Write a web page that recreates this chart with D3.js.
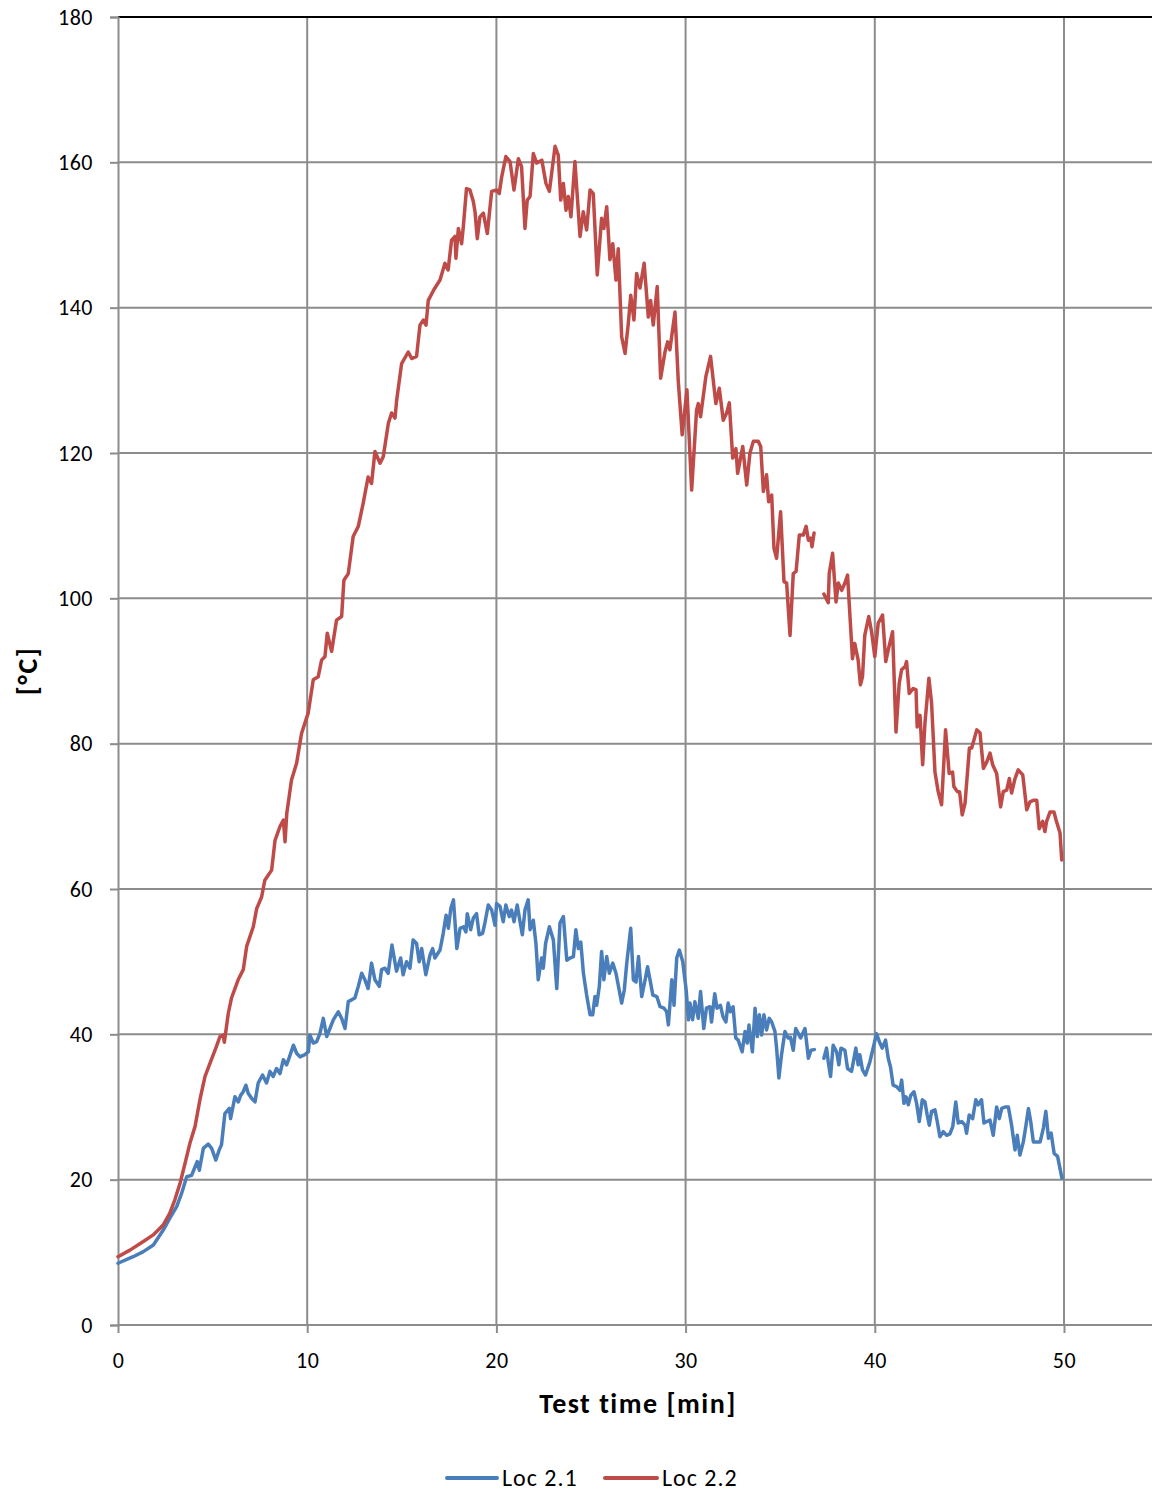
<!DOCTYPE html>
<html>
<head>
<meta charset="utf-8">
<script src="https://cdn.jsdelivr.net/npm/d3@7/dist/d3.min.js"></script>
<style>
  html, body { margin: 0; padding: 0; background: #fff; }
  svg { display: block; }
  text { font-family: Carlito, Calibri, Lato, "Open Sans", sans-serif; fill: #000; }
</style>
</head>
<body>
<svg id="chart" width="1152" height="1491"></svg>
<script>
// Temperature readings [°C] against test time [min]; null marks a logging gap.
const loc21Time = [0,0.8,1.34,1.87,2.4,2.74,3.1,3.36,3.63,3.89,4.0,4.19,4.3,4.51,4.77,4.95,5.17,5.35,5.47,5.65,5.88,5.95,6.18,6.36,6.48,6.62,6.76,6.88,7.06,7.24,7.41,7.64,7.85,8.03,8.2,8.38,8.56,8.74,8.91,9.05,9.27,9.44,9.62,9.88,10.06,10.14,10.32,10.5,10.67,10.85,11.03,11.2,11.38,11.64,11.82,12.0,12.17,12.52,12.7,12.88,13.05,13.22,13.4,13.58,13.81,13.93,14.11,14.28,14.48,14.72,14.94,15.07,15.25,15.43,15.6,15.78,15.92,16.05,16.27,16.49,16.63,16.75,17.02,17.19,17.34,17.46,17.59,17.73,17.91,18.08,18.26,18.39,18.46,18.64,18.78,18.95,19.09,19.27,19.39,19.57,19.75,19.93,20.01,20.19,20.36,20.5,20.68,20.8,20.93,21.1,21.25,21.37,21.51,21.68,21.78,21.95,22.09,22.21,22.39,22.48,22.6,22.8,23.01,23.19,23.36,23.54,23.72,23.89,24.07,24.2,24.33,24.46,24.6,24.77,24.95,25.09,25.21,25.3,25.44,25.56,25.68,25.83,25.97,26.15,26.32,26.49,26.62,26.76,26.89,27.1,27.24,27.38,27.51,27.68,27.86,27.99,28.12,28.27,28.48,28.65,28.86,29.0,29.09,29.27,29.39,29.53,29.67,29.85,30.03,30.15,30.23,30.37,30.49,30.67,30.79,30.96,31.1,31.28,31.37,31.54,31.66,31.84,31.98,32.13,32.25,32.37,32.51,32.65,32.78,32.99,33.14,33.26,33.35,33.53,33.67,33.79,33.9,34.02,34.14,34.28,34.42,34.55,34.72,34.81,34.93,35.07,35.25,35.42,35.54,35.69,35.82,35.96,36.08,36.31,36.49,36.63,36.8,37.05,37.31,37.45,37.54,37.66,37.8,37.98,38.1,38.21,38.42,38.56,38.77,38.9,39.0,39.12,39.21,39.35,39.51,39.74,39.95,40.09,40.27,40.39,40.57,40.71,40.83,40.97,41.15,41.33,41.42,41.54,41.65,41.77,41.9,42.07,42.21,42.35,42.51,42.65,42.77,42.88,43.0,43.18,43.3,43.44,43.62,43.8,43.97,44.12,44.28,44.41,44.59,44.77,44.85,44.99,45.17,45.34,45.46,45.64,45.77,45.91,46.09,46.26,46.44,46.58,46.71,46.88,47.06,47.23,47.41,47.53,47.67,47.85,47.99,48.12,48.24,48.38,48.56,48.74,48.91,49.04,49.18,49.32,49.48,49.66,49.89];
const loc21Temp = [8.5,9.4,10.1,11.0,13.1,14.7,16.3,18.1,20.4,20.6,21.3,22.5,21.3,24.3,24.9,24.3,22.7,24.1,24.8,29.1,29.8,28.4,31.4,30.7,31.6,32.1,33.0,31.9,31.2,30.7,33.3,34.4,33.3,34.9,34.2,35.3,34.6,36.5,35.8,36.8,38.5,37.4,36.9,37.2,37.6,39.9,38.8,39.0,40.1,42.2,39.7,40.8,42.0,43.1,42.2,40.8,44.5,45.0,46.6,48.4,47.5,46.3,49.8,47.5,46.6,48.9,49.1,48.4,52.3,48.7,50.5,48.2,50.0,49.1,53.0,52.5,50.0,51.8,48.2,50.9,51.8,50.5,51.6,53.9,56.4,54.6,57.3,58.5,51.8,54.6,54.8,54.1,56.6,54.4,56.0,56.6,53.7,53.9,55.3,57.8,57.1,55.0,58.0,57.6,55.5,57.8,56.2,57.1,55.5,57.8,55.5,53.7,57.1,58.5,54.4,55.7,52.5,47.5,50.5,49.1,52.5,54.8,53.0,46.3,55.3,56.2,50.2,50.5,50.7,54.4,51.8,52.7,48.4,45.4,42.7,42.7,45.2,44.0,46.6,51.4,47.5,50.7,48.4,49.8,48.4,46.1,44.3,46.1,49.8,54.6,47.5,47.2,50.7,45.2,47.5,49.3,47.5,45.4,45.2,43.8,43.6,43.1,41.3,47.5,44.0,50.5,51.6,50.0,46.1,42.0,44.3,42.0,44.5,42.2,45.9,40.8,43.6,43.8,41.7,45.6,43.6,44.0,42.4,41.7,44.3,43.1,43.8,39.5,39.2,37.6,40.4,38.8,41.3,37.6,43.6,39.7,42.7,39.9,42.7,40.6,42.2,41.7,40.4,38.1,34.0,37.2,40.4,39.5,39.6,37.8,40.8,40.1,39.5,40.8,36.7,37.8,37.9,null,36.7,38.1,36.2,34.2,38.5,37.6,35.8,38.1,37.8,35.3,34.9,36.7,38.1,35.8,37.2,35.1,34.4,36.2,38.5,40.1,38.8,38.1,39.2,36.7,35.5,33.0,32.8,32.3,33.7,30.5,31.4,30.3,31.6,32.1,30.5,28.0,31.0,30.7,28.9,27.5,29.4,29.6,28.0,25.9,26.6,26.1,26.3,27.3,30.7,27.8,28.0,27.5,26.4,28.9,28.4,31.0,30.3,31.0,27.8,28.0,28.2,26.1,30.0,28.4,29.8,30.0,30.0,27.5,24.1,26.1,23.4,25.2,27.5,29.8,28.0,25.2,25.2,25.2,27.1,29.4,25.7,26.4,23.6,23.2,20.2];

const loc22Time = [0,0.63,1.34,1.86,2.4,2.74,3.0,3.28,3.54,3.8,4.07,4.33,4.6,4.86,5.2,5.39,5.56,5.62,5.83,6.0,6.35,6.62,6.8,7.15,7.33,7.59,7.76,8.12,8.3,8.56,8.74,8.83,8.92,9.17,9.44,9.7,10.05,10.32,10.58,10.76,10.94,11.06,11.29,11.55,11.82,11.94,12.17,12.43,12.7,12.96,13.22,13.4,13.58,13.85,14.02,14.29,14.46,14.64,14.73,14.99,15.34,15.52,15.78,15.96,16.14,16.28,16.4,16.7,17.02,17.28,17.45,17.63,17.81,17.86,17.99,18.16,18.25,18.42,18.6,18.78,18.87,18.99,19.13,19.31,19.52,19.75,20.01,20.15,20.28,20.5,20.72,20.93,21.16,21.33,21.51,21.63,21.78,21.95,22.13,22.4,22.62,22.8,23.1,23.27,23.4,23.54,23.68,23.8,23.94,24.15,24.42,24.59,24.77,24.95,25.12,25.33,25.56,25.68,25.83,26.0,26.15,26.32,26.44,26.62,26.8,26.97,27.1,27.27,27.41,27.59,27.81,28.03,28.15,28.29,28.5,28.68,28.91,29.05,29.17,29.44,29.61,29.82,30.07,30.32,30.58,30.67,30.79,31.07,31.32,31.6,31.78,31.99,32.17,32.31,32.49,32.66,32.75,33.02,33.23,33.4,33.58,33.84,33.97,34.11,34.28,34.39,34.55,34.67,34.81,35.02,35.2,35.34,35.52,35.69,35.84,36.01,36.22,36.37,36.49,36.61,36.68,36.79,37.05,37.31,37.54,37.59,37.77,37.95,38.07,38.25,38.42,38.56,38.82,38.94,39.12,39.24,39.35,39.47,39.68,39.83,40.0,40.18,40.41,40.58,40.71,40.94,41.12,41.29,41.42,41.6,41.68,41.82,42.03,42.18,42.24,42.39,42.53,42.65,42.86,43.0,43.18,43.35,43.53,43.74,43.93,44.11,44.18,44.36,44.48,44.62,44.77,45.0,45.12,45.24,45.39,45.56,45.74,45.92,46.09,46.23,46.44,46.65,46.79,46.97,47.11,47.23,47.41,47.58,47.82,48.03,48.2,48.38,48.56,48.69,48.87,48.99,49.08,49.26,49.47,49.58,49.79,49.88];
const loc22Temp = [9.4,10.3,11.5,12.4,13.8,15.4,17.2,19.5,22.2,25.0,27.3,31.0,34.2,36.0,38.3,39.7,39.9,38.9,42.9,45.0,47.5,48.9,52.1,54.8,57.3,58.9,61.2,62.6,66.7,68.6,69.5,66.5,70.4,75.0,77.3,81.4,84.2,88.8,89.2,91.5,92.0,95.2,92.7,97.0,97.5,102.5,103.4,108.5,109.9,113.1,116.7,115.8,120.2,118.6,119.5,124.1,125.5,124.8,127.3,132.3,133.9,133.0,133.3,137.6,138.3,137.6,141.0,142.5,143.8,146.1,145.2,149.3,149.8,146.8,150.9,148.8,151.1,156.4,156.2,154.6,153.2,149.5,152.5,153.0,150.2,156.0,156.2,155.7,158.0,160.8,160.1,156.2,160.5,159.4,150.9,154.8,155.3,161.2,159.9,160.3,157.1,156.0,162.2,161.0,154.8,157.1,153.4,155.3,152.5,160.1,149.8,153.2,150.7,156.2,155.7,144.5,152.3,150.9,153.9,146.6,148.8,143.8,148.1,136.0,133.7,137.8,141.7,138.3,144.7,142.7,146.1,138.7,141.0,137.6,142.9,130.3,133.9,135.3,134.2,139.4,130.0,122.5,128.7,114.9,125.9,126.8,125.0,130.5,133.3,126.8,128.9,124.5,125.5,126.9,119.3,120.6,117.2,120.9,115.6,120.0,121.6,121.6,120.9,114.7,117.0,113.3,114.2,106.9,105.5,111.9,102.3,102.1,94.9,103.4,103.7,108.7,108.7,109.9,108.0,108.3,107.1,109.0,null,100.6,99.4,103.4,106.2,99.5,102.1,101.1,102.1,103.2,91.7,93.8,91.5,88.1,89.2,94.9,97.5,95.4,92.0,96.6,97.7,91.3,92.9,95.4,81.6,88.3,90.2,90.6,91.3,86.9,87.6,87.4,82.3,83.9,77.1,82.8,89.0,85.6,76.1,73.4,71.6,81.9,75.9,76.1,74.1,73.4,73.4,70.2,71.8,79.4,79.4,80.5,81.9,81.5,76.6,77.5,78.7,77.1,75.9,71.3,73.4,73.6,75.2,73.2,75.2,76.4,75.7,70.9,72.0,72.2,72.2,68.3,69.3,67.9,69.3,70.6,70.6,69.5,67.7,64.0];

const seriesNames = ["Loc 2.1", "Loc 2.2"];
const seriesColors = ["#4a7ebb", "#be4b48"];
const xTicks = [0, 10, 20, 30, 40, 50];
const yTicks = [0, 20, 40, 60, 80, 100, 120, 140, 160, 180];

const series = [
  { name: seriesNames[0], color: seriesColors[0], points: loc21Time.map((t, i) => ({ t, v: loc21Temp[i] })) },
  { name: seriesNames[1], color: seriesColors[1], points: loc22Time.map((t, i) => ({ t, v: loc22Temp[i] })) }
];

const plot = { left: 118, top: 17, bottom: 1325 };
const pxPerMin = (1064 - 118) / 50;
const x = d3.scaleLinear().domain([0, 55]).range([plot.left, plot.left + 55 * pxPerMin]);
const y = d3.scaleLinear().domain([0, 180]).range([plot.bottom, plot.top]);

const svg = d3.select("#chart");
const gridColor = "#8c8c8c";
const xRight = 1152;
const labelFont = "Carlito, Calibri, Lato, sans-serif";

// Horizontal gridlines
svg.append("g").selectAll("line").data(yTicks.filter(v => v > 0 && v < 180)).join("line")
  .attr("x1", plot.left).attr("x2", xRight)
  .attr("y1", d => y(d)).attr("y2", d => y(d))
  .attr("stroke", gridColor).attr("stroke-width", 2);

// Vertical gridlines
svg.append("g").selectAll("line").data(xTicks.filter(v => v > 0)).join("line")
  .attr("x1", d => x(d)).attr("x2", d => x(d))
  .attr("y1", plot.top).attr("y2", plot.bottom)
  .attr("stroke", gridColor).attr("stroke-width", 2);

// Plot frame top edge
svg.append("line")
  .attr("x1", plot.left).attr("x2", xRight)
  .attr("y1", y(180)).attr("y2", y(180))
  .attr("stroke", "#000").attr("stroke-width", 2);

// Y axis
const yAxis = d3.axisLeft(y).tickValues(yTicks).tickSize(8).tickPadding(17).tickFormat(d3.format("d"));
const gy = svg.append("g").attr("transform", `translate(${plot.left},0)`).call(yAxis);
gy.select(".domain").attr("stroke", gridColor).attr("stroke-width", 2);
gy.selectAll(".tick line").attr("stroke", gridColor).attr("stroke-width", 2);
gy.selectAll(".tick text").attr("font-size", 22).attr("fill", "#000")
  .style("font-family", labelFont).style("letter-spacing", "0.5px");

// X axis
const xAxis = d3.axisBottom(x).tickValues(xTicks).tickSize(8).tickPadding(19).tickFormat(d3.format("d"));
const gx = svg.append("g").attr("transform", `translate(0,${plot.bottom})`).call(xAxis);
gx.select(".domain").attr("d", `M${plot.left},0H${xRight}`).attr("stroke", gridColor).attr("stroke-width", 2);
gx.selectAll(".tick line").attr("stroke", gridColor).attr("stroke-width", 2);
gx.selectAll(".tick text").attr("font-size", 22).attr("fill", "#000")
  .style("font-family", labelFont).style("letter-spacing", "0.5px");

// Data lines
const line = d3.line()
  .defined(d => d.v != null)
  .x(d => x(d.t))
  .y(d => y(d.v));

svg.append("g").selectAll("path").data(series).join("path")
  .attr("d", d => line(d.points))
  .attr("fill", "none")
  .attr("stroke", d => d.color)
  .attr("stroke-width", 3.5)
  .attr("stroke-linejoin", "round")
  .attr("stroke-linecap", "round");

// Axis titles
svg.append("text")
  .attr("x", 638).attr("y", 1413)
  .attr("text-anchor", "middle")
  .attr("font-size", 28).attr("font-weight", "bold")
  .style("letter-spacing", "1.5px")
  .text("Test time [min]");

svg.append("text")
  .attr("transform", "translate(37,671) rotate(-90)")
  .attr("text-anchor", "middle")
  .attr("font-size", 28).attr("font-weight", "bold")
  .style("letter-spacing", "1.5px")
  .text("[°C]");

// Legend
const legendItems = [
  { x1: 447, x2: 497, tx: 502 },
  { x1: 605, x2: 657, tx: 662 }
];
const lg = svg.append("g");
series.forEach((s, i) => {
  const p = legendItems[i];
  lg.append("line")
    .attr("x1", p.x1).attr("x2", p.x2).attr("y1", 1478).attr("y2", 1478)
    .attr("stroke", s.color).attr("stroke-width", 4).attr("stroke-linecap", "round");
  lg.append("text")
    .attr("x", p.tx).attr("y", 1486)
    .attr("font-size", 24)
    .style("letter-spacing", "1px")
    .text(s.name);
});
</script>
</body>
</html>
